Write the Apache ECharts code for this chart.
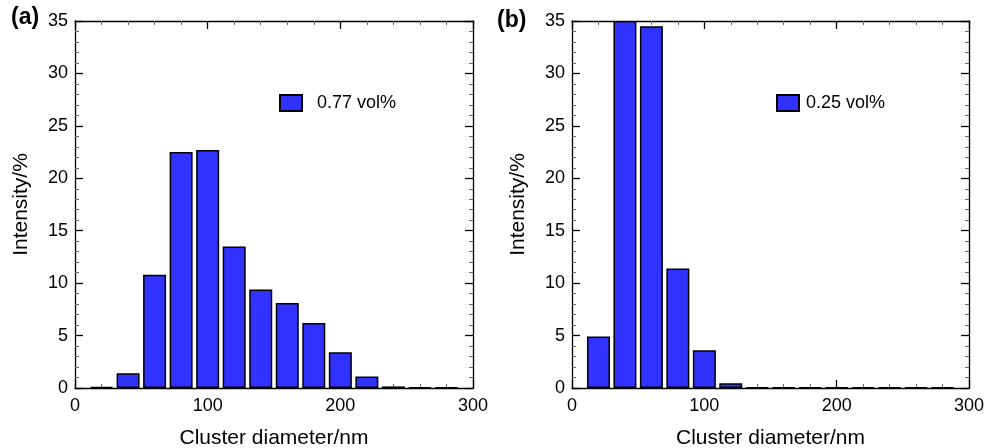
<!DOCTYPE html>
<html>
<head>
<meta charset="utf-8">
<script src="https://cdn.jsdelivr.net/npm/echarts@6/dist/echarts.min.js"></script>
<style>
  html, body { margin: 0; padding: 0; background: #fff; }
  #chart { width: 987px; height: 448px; }
</style>
</head>
<body>
<div id="chart"></div>
<script>
// bin centres of the size histogram (nm)
const binCenters = [20, 40, 60, 80, 100, 120, 140, 160, 180, 200, 220, 240, 260, 280]
// intensity (%)
const intensityA = [0.1, 1.4, 10.8, 22.5, 22.7, 13.5, 9.4, 8.1, 6.2, 3.4, 1.1, 0.15, 0.05, 0.05]
const intensityB = [4.9, 35, 34.5, 11.4, 3.6, 0.45, 0.05, 0.05, 0.05, 0.05, 0.05, 0.05, 0.05, 0.05]
const seriesNames = ['0.77 vol%', '0.25 vol%']
const panelLabels = ['(a)', '(b)']
const xTicks = [0, 100, 200, 300]
const yTicks = [0, 5, 10, 15, 20, 25, 30, 35]

const font = '"Liberation Sans", Arial, Helvetica, sans-serif'
const grids = [
  { left: 75, top: 21, width: 398, height: 367, outerBoundsMode: 'none', containLabel: false },
  { left: 572, top: 21, width: 397, height: 367, outerBoundsMode: 'none', containLabel: false }
]

const lineStyle = { color: '#000', width: 1.3 }

function xAxisFor(gi, top) {
  return {
    type: 'value',
    gridIndex: gi,
    position: top ? 'top' : 'bottom',
    min: xTicks[0],
    max: xTicks[xTicks.length - 1],
    interval: xTicks[1] - xTicks[0],
    name: top ? '' : 'Cluster diameter/nm',
    nameLocation: 'middle',
    nameGap: 40,
    nameTextStyle: { color: '#000', fontSize: 21, fontFamily: font },
    axisLine: { show: true, onZero: false, lineStyle: lineStyle },
    axisTick: { show: true, inside: true, length: 8, lineStyle: lineStyle },
    minorTick: { show: true, splitNumber: 5, length: 4, lineStyle: { color: '#666', width: 1 } },
    axisLabel: { show: !top, color: '#000', fontSize: 18, fontFamily: font, margin: 9 },
    splitLine: { show: false }
  }
}

function yAxisFor(gi, right) {
  return {
    type: 'value',
    gridIndex: gi,
    position: right ? 'right' : 'left',
    min: yTicks[0],
    max: yTicks[yTicks.length - 1],
    interval: yTicks[1] - yTicks[0],
    name: right ? '' : 'Intensity/%',
    nameLocation: 'middle',
    nameGap: 43,
    nameTextStyle: { color: '#000', fontSize: 21, fontFamily: font },
    axisLine: { show: true, onZero: false, lineStyle: lineStyle },
    axisTick: { show: true, inside: true, length: 8, lineStyle: lineStyle },
    minorTick: { show: true, splitNumber: 5, length: 4, lineStyle: { color: '#666', width: 1 } },
    axisLabel: { show: !right, color: '#000', fontSize: 18, fontFamily: font, margin: 7 },
    splitLine: { show: false }
  }
}

function barSeries(i, values) {
  return {
    name: seriesNames[i],
    type: 'bar',
    xAxisIndex: i * 2,
    yAxisIndex: i * 2,
    barWidth: 23,
    itemStyle: { color: '#3232ff', borderColor: '#000', borderWidth: 1.5 },
    data: binCenters.map((c, k) => [c, values[k]])
  }
}

const chart = echarts.init(document.getElementById('chart'))
chart.setOption({
  backgroundColor: '#fff',
  animation: false,
  grid: grids,
  xAxis: [xAxisFor(0, false), xAxisFor(0, true), xAxisFor(1, false), xAxisFor(1, true)],
  yAxis: [yAxisFor(0, false), yAxisFor(0, true), yAxisFor(1, false), yAxisFor(1, true)],
  legend: [
    {
      data: [{ name: seriesNames[0], icon: 'rect' }], left: 274, top: 89, itemWidth: 22, itemHeight: 16, itemGap: 10,
      textStyle: { color: '#000', fontSize: 18, fontFamily: font, padding: [0, 0, 0, 10] }
    },
    {
      data: [{ name: seriesNames[1], icon: 'rect' }], left: 771, top: 89, itemWidth: 22, itemHeight: 16, itemGap: 10,
      textStyle: { color: '#000', fontSize: 18, fontFamily: font, padding: [0, 0, 0, 2] }
    }
  ],
  graphic: [
    { type: 'text', left: 11, top: 6, style: { text: panelLabels[0], fill: '#000', font: 'bold 23px ' + font } },
    { type: 'text', left: 497, top: 9, style: { text: panelLabels[1], fill: '#000', font: 'bold 23px ' + font } }
  ],
  series: [barSeries(0, intensityA), barSeries(1, intensityB)]
})
window.onresize = () => {
  chart.resize()
}
</script>
</body>
</html>
